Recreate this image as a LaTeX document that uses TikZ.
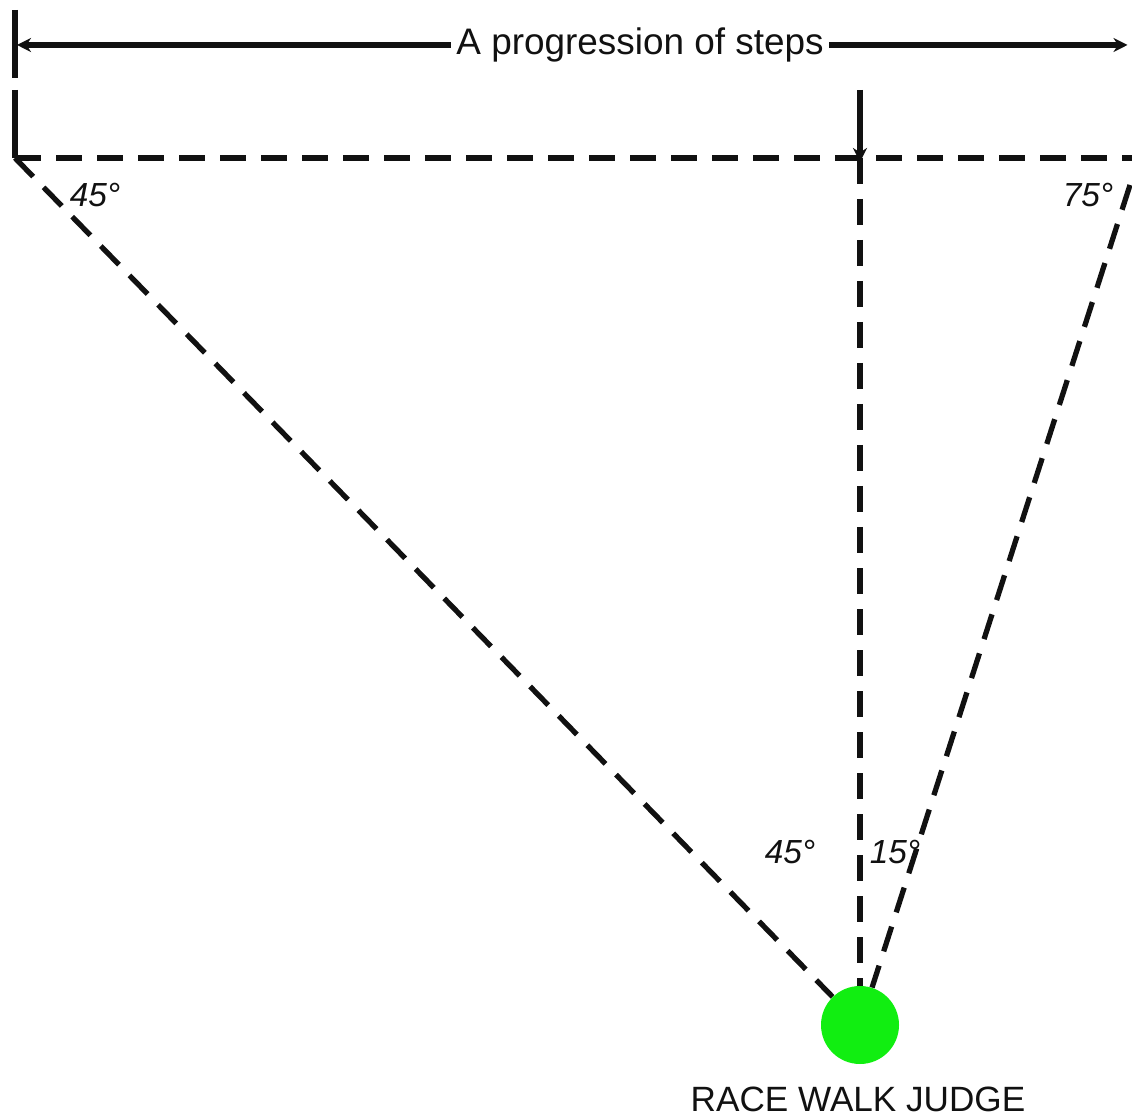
\documentclass[tikz,border=0pt]{standalone}
\usepackage{fontspec}
\setmainfont{Liberation Sans}
\usepackage{tikz}
\usetikzlibrary{arrows.meta,positioning,calc}
\definecolor{ink}{HTML}{111111}
\definecolor{judgegreen}{HTML}{11EE11}
\tikzset{
  sightline/.style={
    dashed, dash pattern=on 0.52cm off 0.3cm, line width=3pt, color=ink
  },
  solidline/.style={
    line width=3pt, color=ink
  },
  steparrow/.style={
    -{Stealth[length=8pt,width=8pt]}, line width=3pt, color=ink
  },
  anglelabel/.style={
    font=\fontsize{19}{21}\selectfont\itshape, color=ink, inner sep=1pt
  },
  titlelabel/.style={
    font=\fontsize{21}{23}\selectfont, color=ink, fill=white,
    inner sep=3pt
  },
  judgedot/.style={
    circle, fill=judgegreen, draw=none, minimum size=1.56cm, inner sep=0pt
  },
}

\begin{document}
\begin{tikzpicture}
    \useasboundingbox (0,0) rectangle (22.64,22.34);

    % reference points
    \coordinate (ticktop) at (0.30,22.14);
    \coordinate (tickbot) at (0.30,20.78);
    \coordinate (cornertop) at (0.30,20.54);
    \coordinate (corner) at (0.30,19.18);
    \coordinate (arrowleft) at (0.34,21.44);
    \coordinate (arrowright) at (22.55,21.44);
    \coordinate (baseright) at (22.64,19.18);
    \coordinate (midtop) at (17.2,20.54);
    \coordinate (midbase) at (17.2,19.10);
    \coordinate (farright) at (22.6,18.64);

    % judge
    \node[judgedot] (judge) at (17.2,1.84) {};
    \node[font=\fontsize{20}{22}\selectfont, color=ink] (judgelabel) at (17.16,0.36) {RACE WALK JUDGE};

    % progression of steps
    \draw[solidline] (ticktop) -- (tickbot);
    \draw[solidline] (cornertop) -- (corner);
    \draw[steparrow] (12.8,21.44) -- (arrowright);
    \draw[steparrow] (12.8,21.44) -- (arrowleft);
    \node[titlelabel] (steps) at (12.8,21.44) {A progression of steps};

    % baseline and marker
    \draw[sightline] (corner) -- (baseright);
    \draw[steparrow] (midtop) -- (midbase);

    % lines of sight
    \draw[sightline] (corner) -- (judge);
    \draw[sightline] (17.2,19.18) -- (judge);
    \draw[sightline] (farright) -- (judge);

    % angles
    \node[anglelabel] (cornerangle) at (1.9,18.44) {45°};
    \node[anglelabel] (rightangle) at (21.76,18.44) {75°};
    \node[anglelabel] (leftjudge) at (15.8,5.30) {45°};
    \node[anglelabel] (rightjudge) at (17.9,5.30) {15°};
\end{tikzpicture}
\end{document}
